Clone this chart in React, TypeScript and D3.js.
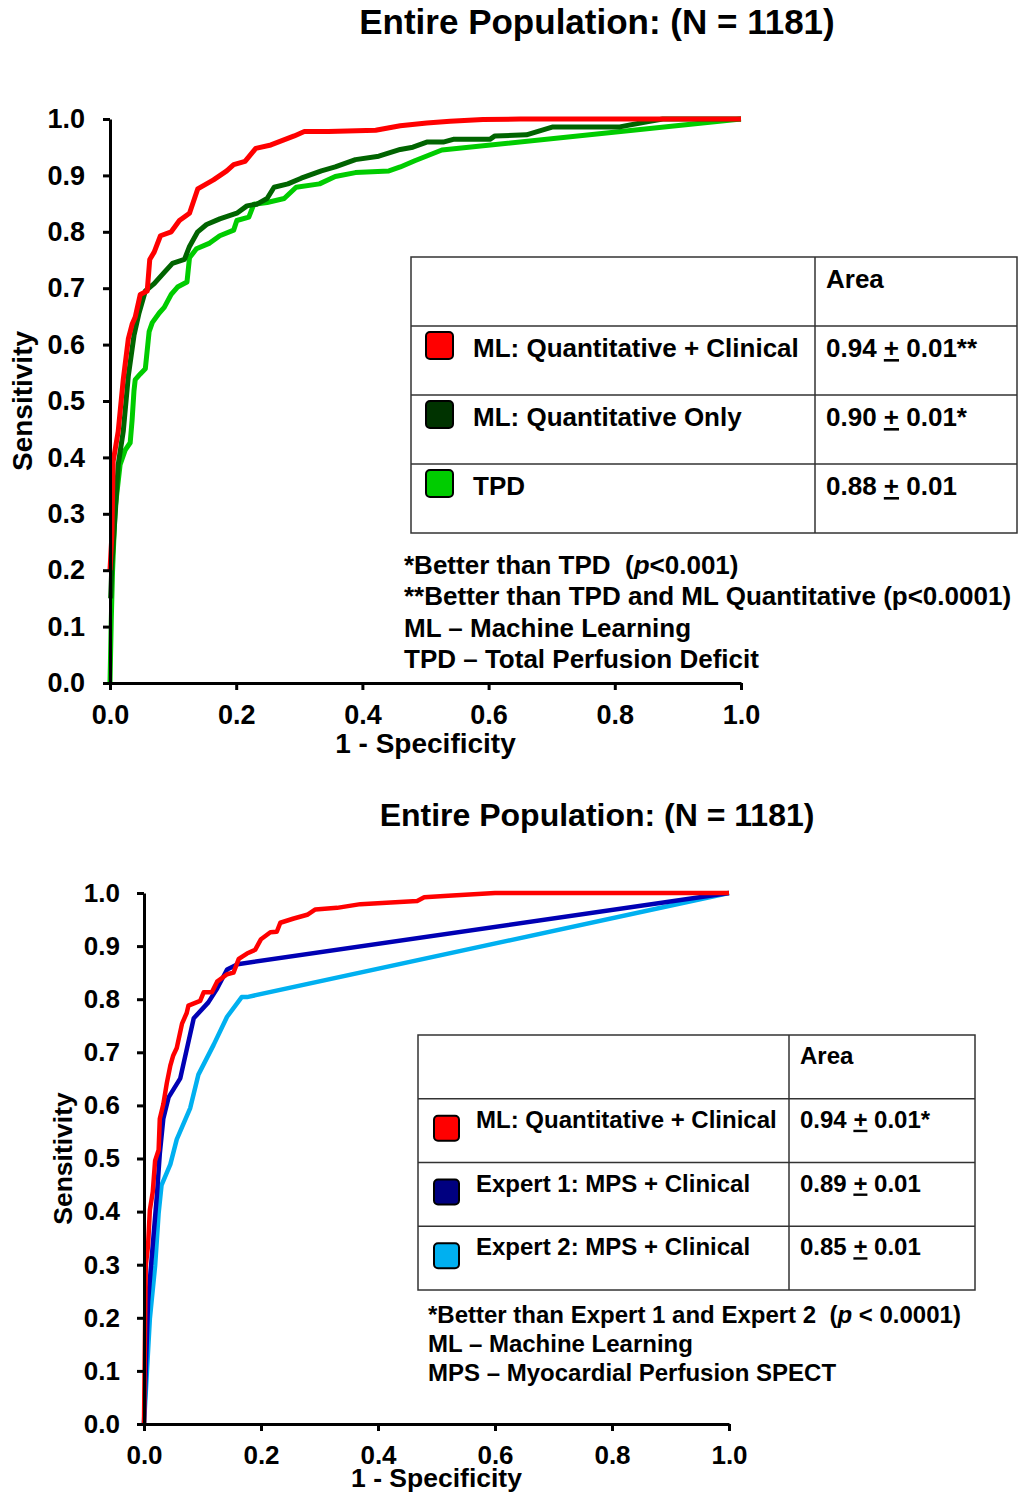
import React, { useRef, useEffect } from 'react';
import * as d3 from 'd3';

type Pt = [number, number];

// ---- top panel: ML vs TPD (fpr, tpr) ----
const mlClinical: Pt[] = [[0, 0.2], [0.003, 0.262], [0.005, 0.393], [0.013, 0.446], [0.021, 0.538], [0.029, 0.61], [0.035, 0.636], [0.04, 0.649], [0.048, 0.689], [0.059, 0.695], [0.063, 0.751], [0.07, 0.764], [0.08, 0.793], [0.097, 0.8], [0.11, 0.82], [0.126, 0.833], [0.139, 0.876], [0.164, 0.892], [0.185, 0.908], [0.196, 0.919], [0.214, 0.925], [0.231, 0.948], [0.255, 0.954], [0.292, 0.97], [0.308, 0.978], [0.346, 0.978], [0.421, 0.98], [0.46, 0.988], [0.502, 0.993], [0.539, 0.996], [0.591, 0.999], [0.65, 1], [1, 1]];
const mlQuantOnly: Pt[] = [[0.001, 0.15], [0.003, 0.21], [0.008, 0.295], [0.013, 0.387], [0.021, 0.446], [0.029, 0.544], [0.038, 0.616], [0.046, 0.656], [0.056, 0.695], [0.07, 0.708], [0.086, 0.728], [0.099, 0.744], [0.118, 0.751], [0.126, 0.774], [0.139, 0.8], [0.153, 0.813], [0.174, 0.823], [0.201, 0.833], [0.217, 0.846], [0.233, 0.849], [0.249, 0.859], [0.26, 0.879], [0.282, 0.885], [0.303, 0.895], [0.335, 0.908], [0.357, 0.915], [0.389, 0.928], [0.426, 0.934], [0.46, 0.946], [0.48, 0.95], [0.502, 0.959], [0.528, 0.959], [0.544, 0.964], [0.602, 0.964], [0.61, 0.97], [0.66, 0.972], [0.681, 0.979], [0.702, 0.986], [0.808, 0.986], [0.851, 0.995], [0.876, 1], [1, 1]];
const tpd: Pt[] = [[0, 0], [0.002, 0.111], [0.004, 0.197], [0.008, 0.308], [0.016, 0.387], [0.024, 0.413], [0.032, 0.426], [0.035, 0.466], [0.038, 0.518], [0.04, 0.538], [0.048, 0.548], [0.056, 0.557], [0.062, 0.623], [0.067, 0.639], [0.078, 0.656], [0.086, 0.666], [0.097, 0.689], [0.107, 0.702], [0.122, 0.711], [0.126, 0.754], [0.137, 0.77], [0.158, 0.78], [0.174, 0.793], [0.196, 0.803], [0.201, 0.82], [0.22, 0.826], [0.228, 0.849], [0.249, 0.852], [0.276, 0.859], [0.295, 0.879], [0.332, 0.885], [0.357, 0.898], [0.389, 0.905], [0.442, 0.908], [0.46, 0.915], [0.483, 0.926], [0.526, 0.945], [1, 1]];

// ---- bottom panel: ML vs experts ----
const mlClinical2: Pt[] = [[0, 0], [0.003, 0.298], [0.007, 0.337], [0.01, 0.403], [0.015, 0.437], [0.019, 0.496], [0.025, 0.516], [0.027, 0.575], [0.033, 0.602], [0.039, 0.642], [0.045, 0.675], [0.05, 0.694], [0.056, 0.708], [0.065, 0.754], [0.073, 0.774], [0.076, 0.788], [0.096, 0.797], [0.102, 0.813], [0.116, 0.813], [0.125, 0.833], [0.142, 0.847], [0.153, 0.85], [0.162, 0.876], [0.176, 0.886], [0.19, 0.893], [0.2, 0.913], [0.216, 0.926], [0.227, 0.927], [0.233, 0.944], [0.256, 0.952], [0.279, 0.959], [0.293, 0.969], [0.33, 0.972], [0.37, 0.979], [0.422, 0.982], [0.467, 0.985], [0.479, 0.992], [0.52, 0.995], [0.6, 1], [1, 1]];
const expert1: Pt[] = [[0, 0], [0.007, 0.231], [0.013, 0.311], [0.022, 0.43], [0.027, 0.509], [0.033, 0.575], [0.042, 0.615], [0.062, 0.651], [0.085, 0.764], [0.11, 0.794], [0.125, 0.82], [0.142, 0.856], [0.16, 0.866], [1, 1]];
const expert2: Pt[] = [[0, 0], [0.005, 0.099], [0.01, 0.198], [0.019, 0.298], [0.025, 0.397], [0.03, 0.45], [0.045, 0.489], [0.056, 0.536], [0.079, 0.595], [0.093, 0.658], [0.119, 0.714], [0.142, 0.767], [0.167, 0.804], [0.176, 0.804], [1, 1]];

const yTicks = [0, 0.1, 0.2, 0.3, 0.4, 0.5, 0.6, 0.7, 0.8, 0.9, 1.0];
const xTicks = [0, 0.2, 0.4, 0.6, 0.8, 1.0];

const titleText = 'Entire Population: (N = 1181)';

const topNames = ['ML: Quantitative + Clinical', 'ML: Quantitative Only', 'TPD'];
const topAreas = ['0.94', '0.90', '0.88'];
const topMarks = ['**', '*', ''];
const topSwatches = ['#ff0000', '#003300', '#00cc00'];
const topNotes = ['*Better than TPD  (_p_<0.001)', '**Better than TPD and ML Quantitative (p<0.0001)', 'ML \u2013 Machine Learning', 'TPD \u2013 Total Perfusion Deficit'];

const botNames = ['ML: Quantitative + Clinical', 'Expert 1: MPS + Clinical', 'Expert 2: MPS + Clinical'];
const botAreas = ['0.94', '0.89', '0.85'];
const botMarks = ['*', '', ''];
const botSwatches = ['#ff0000', '#000080', '#00b0f0'];
const botNotes = ['*Better than Expert 1 and Expert 2  (_p_ < 0.0001)', 'ML \u2013 Machine Learning', 'MPS \u2013 Myocardial Perfusion SPECT'];

const FONT = '"Liberation Sans", Arial, Helvetica, sans-serif';

const drawPanel = (root: any, p: any) => {
    const g = root.append('g');
    const x = d3.scaleLinear().domain([0, 1]).range([p.left, p.right]);
    const y = d3.scaleLinear().domain([0, 1]).range([p.bottom, p.top]);

    g.append('text')
        .attr('x', 597).attr('y', p.titleY)
        .attr('text-anchor', 'middle')
        .attr('font-size', p.titleSize)
        .text(titleText);

    const line = d3.line<Pt>().x(d => x(d[0])).y(d => y(d[1]));
    p.series.forEach((s: any) => {
        g.append('path')
            .attr('d', line(s.data))
            .attr('fill', 'none')
            .attr('stroke', s.color)
            .attr('stroke-width', p.lineWidth)
            .attr('stroke-linejoin', 'round');
    });

    const ya = g.append('g')
        .attr('transform', 'translate(' + p.left + ',0)')
        .call(d3.axisLeft(y).tickValues(yTicks).tickFormat(d3.format('.1f')).tickSize(7).tickSizeOuter(0).tickPadding(p.yPad));
    const xa = g.append('g')
        .attr('transform', 'translate(0,' + p.bottom + ')')
        .call(d3.axisBottom(x).tickValues(xTicks).tickFormat(d3.format('.1f')).tickSize(7).tickSizeOuter(0).tickPadding(p.xPad));
    [ya, xa].forEach(a => {
        a.select('.domain').attr('stroke', '#000').attr('stroke-width', 3);
        a.selectAll('line').attr('stroke', '#000').attr('stroke-width', 3);
        a.selectAll('text').attr('font-size', p.tickFont).attr('font-family', FONT).attr('font-weight', 'bold').attr('fill', '#000');
    });

    g.append('text')
        .attr('transform', 'translate(' + p.ylabX + ',' + (p.top + p.bottom) / 2 + ') rotate(-90)')
        .attr('text-anchor', 'middle')
        .attr('font-size', p.labFont)
        .text('Sensitivity');
    g.append('text')
        .attr('x', (p.left + p.right) / 2).attr('y', p.xlabY)
        .attr('text-anchor', 'middle')
        .attr('font-size', p.labFont)
        .text('1 - Specificity');

    // legend table
    const t = p.table;
    const tb = g.append('g').attr('font-size', t.font);
    const rows = t.names.length + 1;
    tb.append('rect')
        .attr('x', t.x).attr('y', t.y).attr('width', t.w).attr('height', t.rowH * rows)
        .attr('fill', 'none').attr('stroke', '#333').attr('stroke-width', 1.5);
    tb.append('line')
        .attr('x1', t.div).attr('x2', t.div).attr('y1', t.y).attr('y2', t.y + t.rowH * rows)
        .attr('stroke', '#333').attr('stroke-width', 1.5);
    for (let i = 1; i < rows; i++) {
        tb.append('line')
            .attr('x1', t.x).attr('x2', t.x + t.w)
            .attr('y1', t.y + t.rowH * i).attr('y2', t.y + t.rowH * i)
            .attr('stroke', '#333').attr('stroke-width', 1.5);
    }
    tb.append('text').attr('x', t.areaX).attr('y', t.y + t.textDy).text('Area');
    t.names.forEach((name: string, i: number) => {
        const ry = t.y + t.rowH * (i + 1);
        tb.append('rect')
            .attr('x', t.swX).attr('y', ry + t.swDy).attr('width', t.sw).attr('height', t.sw)
            .attr('rx', 4).attr('fill', t.swatches[i]).attr('stroke', '#000').attr('stroke-width', 2);
        tb.append('text').attr('x', t.textX).attr('y', ry + t.textDy).text(name);
        const at = tb.append('text').attr('x', t.areaX).attr('y', ry + t.textDy).style('white-space', 'pre');
        at.append('tspan').text(t.areas[i] + ' ');
        at.append('tspan').attr('text-decoration', 'underline').style('text-decoration', 'underline').text('+');
        at.append('tspan').text(' 0.01' + t.marks[i]);
    });

    // footnotes
    p.notes.forEach((n: string, i: number) => {
        const nt = g.append('text')
            .attr('x', p.notesX).attr('y', p.notesY + i * p.notesStep)
            .attr('font-size', p.notesFont)
            .style('white-space', 'pre');
        n.split('_').forEach((part, k) => {
            const sp = nt.append('tspan').text(part);
            if (k % 2 === 1) sp.attr('font-style', 'italic');
        });
    });
};

const App = () => {
    const ref = useRef<SVGSVGElement>(null);

    useEffect(() => {
        const svg = d3.select(ref.current);
        svg.selectAll('*').remove();
        const root = svg.append('g').attr('font-family', FONT).attr('font-weight', 'bold').attr('fill', '#000');

        drawPanel(root, {
            left: 110, right: 741, top: 119, bottom: 683,
            titleY: 34, titleSize: 35,
            series: [{ data: tpd, color: '#00cc00' }, { data: mlQuantOnly, color: '#006400' }, { data: mlClinical, color: '#ff0000' }],
            lineWidth: 5,
            tickFont: 27, yPad: 18, xPad: 15,
            labFont: 28, ylabX: 32, xlabY: 753,
            table: {
                x: 411, y: 257, w: 606, rowH: 69, div: 815, font: 26,
                textX: 473, areaX: 826, textDy: 31, swX: 426, swDy: 6, sw: 27,
                names: topNames, areas: topAreas, marks: topMarks, swatches: topSwatches
            },
            notes: topNotes, notesX: 404, notesY: 574, notesStep: 31.3, notesFont: 26
        });

        drawPanel(root, {
            left: 144, right: 729, top: 893, bottom: 1424,
            titleY: 826, titleSize: 32,
            series: [{ data: expert2, color: '#00b0f0' }, { data: expert1, color: '#0000b4' }, { data: mlClinical2, color: '#ff0000' }],
            lineWidth: 4.5,
            tickFont: 26, yPad: 17, xPad: 15,
            labFont: 26.5, ylabX: 72, xlabY: 1487,
            table: {
                x: 418, y: 1035, w: 557, rowH: 63.75, div: 789, font: 24,
                textX: 476, areaX: 800, textDy: 29, swX: 434, swDy: 17, sw: 25,
                names: botNames, areas: botAreas, marks: botMarks, swatches: botSwatches
            },
            notes: botNotes, notesX: 428, notesY: 1323, notesStep: 29, notesFont: 24
        });
    }, []);

    return (
        <svg ref={ref} width={1027} height={1495}
             style={{ position: 'absolute', left: 0, top: 0, background: '#fff' }}></svg>
    );
};

export default App;
